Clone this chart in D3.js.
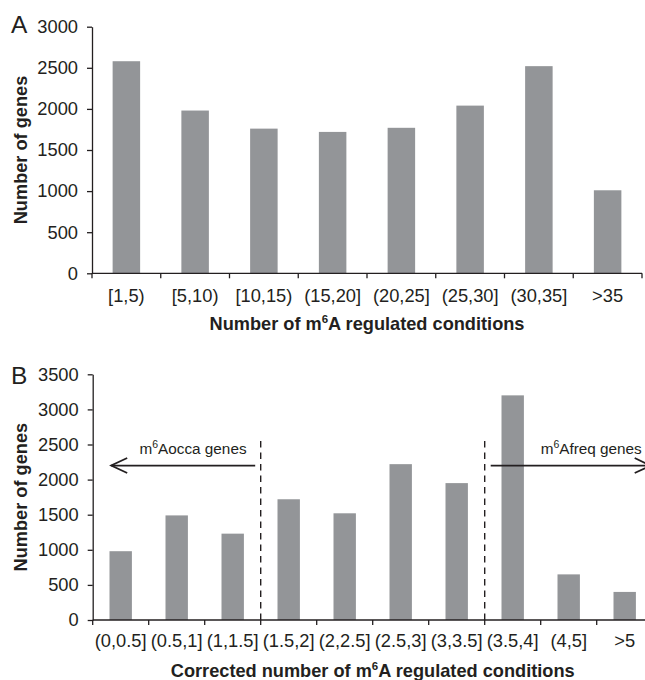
<!DOCTYPE html>
<html>
<head>
<meta charset="utf-8">
<script src="https://cdn.jsdelivr.net/npm/d3@7"></script>
<style>
  html, body { margin: 0; padding: 0; background: #fff; }
  svg { display: block; }
  text { font-family: "Liberation Sans", Arial, sans-serif; fill: #231f20; }
</style>
</head>
<body>
<svg id="chart" width="645" height="680"></svg>
<script>
// Panel A: genes by number of m6A regulated conditions
const catsA = ["[1,5)", "[5,10)", "[10,15)", "(15,20]", "(20,25]", "(25,30]", "(30,35]", ">35"];
const valsA = [2580, 1980, 1760, 1720, 1770, 2040, 2520, 1010];
const ticksA = [0, 500, 1000, 1500, 2000, 2500, 3000];

// Panel B: genes by corrected number of m6A regulated conditions
const catsB = ["(0,0.5]", "(0.5,1]", "(1,1.5]", "(1.5,2]", "(2,2.5]", "(2.5,3]", "(3,3.5]", "(3.5,4]", "(4,5]", ">5"];
const valsB = [980, 1490, 1230, 1720, 1520, 2220, 1950, 3200, 650, 400];
const ticksB = [0, 500, 1000, 1500, 2000, 2500, 3000, 3500];

// Group boundaries in panel B (dashed lines after these categories) and annotations
const cutAfterB = ["(1,1.5]", "(3,3.5]"];
const cutTopB = 2550;
const arrowLevelB = 2200;
const groupLabelsB = ["Aocca genes", "Afreq genes"];

const ink = "#231f20";
const barFill = "#939598";
const tickFont = 18.3;
const titleFont = 18.2;
const svg = d3.select("#chart");

function panel(cfg) {
  const g = svg.append("g");
  const x = d3.scaleBand().domain(cfg.cats).range([cfg.x0, cfg.x1]).paddingInner(0).paddingOuter(0);
  const y = d3.scaleLinear().domain([0, cfg.yMax]).range([cfg.y0, cfg.yTop]);

  // bars
  g.selectAll("rect.bar").data(cfg.cats).join("rect")
    .attr("class", "bar")
    .attr("x", d => x(d) + x.bandwidth() * 0.3)
    .attr("width", x.bandwidth() * 0.4)
    .attr("y", (d, i) => y(cfg.vals[i]))
    .attr("height", (d, i) => y(0) - y(cfg.vals[i]))
    .attr("fill", barFill);

  // y axis
  const ya = g.append("g").attr("transform", `translate(${cfg.x0},0)`)
    .call(d3.axisLeft(y).tickValues(cfg.ticks).tickSize(5).tickSizeOuter(0).tickPadding(9).tickFormat(d3.format("d")));
  ya.selectAll("path, line").attr("stroke", ink).attr("stroke-width", 1.3);
  ya.selectAll("text").attr("font-size", tickFont).attr("font-family", "Liberation Sans, Arial, sans-serif").attr("fill", ink);

  // x axis: ticks at category boundaries
  const edges = cfg.cats.map(c => x(c)).concat([cfg.x1]);
  g.append("line").attr("x1", cfg.x0).attr("x2", cfg.x1).attr("y1", y(0)).attr("y2", y(0))
    .attr("stroke", ink).attr("stroke-width", 1.3);
  g.selectAll("line.xt").data(edges).join("line").attr("class", "xt")
    .attr("x1", d => d).attr("x2", d => d).attr("y1", y(0)).attr("y2", y(0) + 5)
    .attr("stroke", ink).attr("stroke-width", 1.3);
  g.selectAll("text.xl").data(cfg.cats).join("text").attr("class", "xl")
    .attr("x", d => x(d) + x.bandwidth() / 2)
    .attr("y", cfg.labelY)
    .attr("text-anchor", "middle")
    .attr("font-size", tickFont)
    .text(d => d);

  // axis titles
  g.append("text")
    .attr("transform", `translate(${cfg.yTitleX},${(cfg.y0 + cfg.yTop) / 2 + cfg.yTitleShift}) rotate(-90)`)
    .attr("text-anchor", "middle").attr("font-size", titleFont).attr("font-weight", "bold")
    .text("Number of genes");

  const xt = g.append("text")
    .attr("x", (cfg.x0 + cfg.x1) / 2).attr("y", cfg.xTitleY)
    .attr("text-anchor", "middle").attr("font-size", titleFont).attr("font-weight", "bold");
  xt.append("tspan").text(cfg.xTitlePre + "m");
  xt.append("tspan").attr("font-size", 11.5).attr("dy", -6.5).text("6");
  xt.append("tspan").attr("dy", 6.5).text("A regulated conditions");

  // panel letter
  g.append("text").attr("x", 11).attr("y", cfg.letterY).attr("font-size", 24.5).text(cfg.letter);

  return { g, x, y };
}

const A = panel({
  cats: catsA, vals: valsA, ticks: ticksA, yMax: 3000,
  x0: 92, x1: 642, y0: 273.3, yTop: 26.7,
  labelY: 302, xTitleY: 329.5, xTitlePre: "Number of ",
  yTitleX: 26.5, yTitleShift: 0, letter: "A", letterY: 32.7
});

const B = panel({
  cats: catsB, vals: valsB, ticks: ticksB, yMax: 3500,
  x0: 92.7, x1: 652.7, y0: 620, yTop: 374.3,
  labelY: 646.5, xTitleY: 676.5, xTitlePre: "Corrected number of ",
  yTitleX: 26.5, yTitleShift: 0, letter: "B", letterY: 383.5
});

// Panel B annotations: dashed group boundaries, arrows and labels
const bx = B.x, by = B.y;
const cutXs = cutAfterB.map(c => bx(c) + bx.bandwidth());
B.g.selectAll("line.cut").data(cutXs).join("line").attr("class", "cut")
  .attr("x1", d => d).attr("x2", d => d)
  .attr("y1", by(cutTopB)).attr("y2", by(0))
  .attr("stroke", ink).attr("stroke-width", 1.4).attr("stroke-dasharray", "6.5,5");

const ay = by(arrowLevelB);
const leftTip = bx.range()[0] + 18.5;
const rightTip = bx.range()[1] - 2;
const arrows = [
  { from: cutXs[0] - 5.5, to: leftTip, dir: -1 },
  { from: cutXs[1] + 6, to: rightTip, dir: 1 }
];
arrows.forEach(a => {
  B.g.append("line").attr("x1", a.from).attr("x2", a.to).attr("y1", ay).attr("y2", ay)
    .attr("stroke", ink).attr("stroke-width", 1.8);
  B.g.append("path")
    .attr("d", `M${a.to - a.dir * 16},${ay - 7.5}L${a.to},${ay}L${a.to - a.dir * 16},${ay + 7.5}`)
    .attr("fill", "none").attr("stroke", ink).attr("stroke-width", 1.8);
});

const labelPos = [
  { x: 139.5, anchor: "start" },
  { x: cutXs[1] + 56, anchor: "start" }
];
groupLabelsB.forEach((t, i) => {
  const tx = B.g.append("text").attr("x", labelPos[i].x).attr("y", ay - 12)
    .attr("text-anchor", labelPos[i].anchor).attr("font-size", 15.3);
  tx.append("tspan").text("m");
  tx.append("tspan").attr("font-size", 10.5).attr("dy", -5.5).text("6");
  tx.append("tspan").attr("dy", 5.5).text(t);
});
</script>
</body>
</html>
